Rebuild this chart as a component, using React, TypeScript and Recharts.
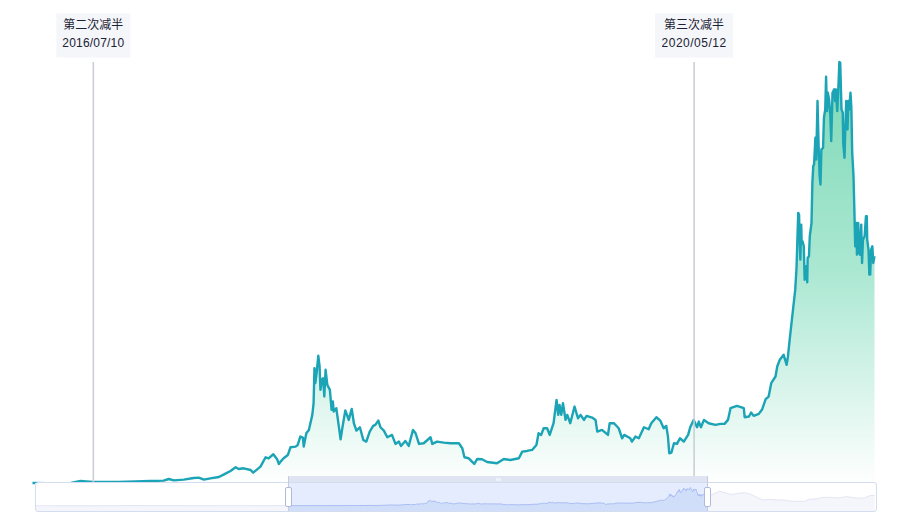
import React from "react";
import { ComposedChart, Area, XAxis, YAxis, ReferenceLine, ReferenceArea } from "recharts";

// Days counted from 2016/02/19, the first day of the zoomed window, and BTC price in USD.
const windowDays = [
  0, 30, 60, 90, 112, 125, 142, 170, 200, 240, 275, 306, 318, 330, 353, 376, 388, 400, 415, 435, 447, 462, 474, 481, 493, 509, 515, 532, 544, 551, 562, 571, 575,
  579, 586, 596, 602, 614, 619, 625, 631, 633, 639, 645, 653, 656, 658, 660, 663, 667, 670, 672, 675, 678, 681, 684, 688, 694, 698, 701, 703, 709, 715, 719, 723, 730, 734, 738, 745, 750, 756, 764, 772, 779, 787, 795, 800, 807, 812, 820, 828, 839, 847, 855, 860, 870, 878, 888, 894, 902, 913, 929, 933, 944, 960, 975, 995, 1003, 1008, 1018, 1031, 1038, 1049, 1061, 1084, 1100, 1115, 1135,
  1143, 1154, 1166, 1176, 1181, 1187, 1193, 1201, 1207, 1216, 1223, 1227, 1230, 1234, 1238, 1244, 1248, 1255, 1265, 1273, 1279, 1287, 1293, 1306, 1314, 1318, 1329, 1343, 1347, 1357, 1368, 1376, 1381, 1395, 1399, 1407, 1415, 1427, 1438, 1444, 1456, 1465, 1473, 1479, 1483, 1486, 1491, 1497, 1504, 1511, 1520, 1530, 1535, 1543, 1551, 1555, 1560, 1567, 1578, 1594, 1605, 1615, 1623, 1629, 1644, 1660, 1662, 1672, 1677, 1683, 1695, 1703, 1711, 1718, 1724, 1734, 1738, 1744, 1753, 1760, 1763, 1767,
  1780, 1783, 1787, 1789, 1790, 1792, 1794, 1795, 1797, 1800, 1802, 1806, 1808, 1809, 1812, 1814, 1818, 1820, 1822, 1824, 1827, 1829, 1832, 1835, 1837, 1839, 1841, 1845, 1847, 1850, 1852, 1854, 1856, 1859, 1862, 1864, 1867, 1871, 1873, 1875, 1878, 1881, 1883, 1885, 1888, 1891, 1892, 1895, 1897, 1899, 1902, 1904, 1906, 1909, 1911, 1913, 1916, 1918, 1920, 1923, 1924, 1927, 1929, 1931, 1934, 1936, 1938, 1942, 1945, 1947, 1948, 1951, 1953, 1955, 1957, 1960, 1962, 1965,
];
const windowPrices = [
  450, 430, 420, 450, 750, 700, 620, 600, 620, 700, 750, 800, 1050, 850, 950, 1200, 1250, 950, 1150, 1350, 1750, 2250, 2800, 2550, 2650, 2400, 2000, 2900, 4300, 4150, 4750, 4000, 3300,
  3650, 4150, 4650, 5800, 5900, 6150, 7400, 7250, 5900, 7900, 8400, 10650, 12400, 17650, 15400, 16900, 19500, 17900, 14400, 15900, 16150, 13400, 17400, 15150, 14400, 11400, 12650, 11150, 11650, 8900, 7000, 8650, 11300, 10650, 9900, 11550, 9400, 8300, 8800, 6900, 6650, 8150, 9000, 9150, 9800, 8800, 8300, 7300, 7650, 6300, 6650, 6000, 6750, 6000, 8400, 7900, 6300, 6400, 7300, 6300, 6650, 6500, 6400, 6400, 5650, 4300, 4150, 3300, 4050, 4000, 3600, 3400, 4050, 3900, 4150,
  5150, 5250, 5400, 6150, 7900, 7650, 8650, 8650, 7650, 9400, 12900, 10650, 12150, 10650, 12400, 9900, 10650, 9400, 11900, 10150, 10650, 9900, 10500, 10250, 9900, 8150, 8400, 7650, 9400, 9400, 8650, 7150, 7650, 7150, 6650, 7400, 7150, 8800, 8500, 9400, 10300, 9800, 8650, 9000, 7400, 4900, 5000, 6400, 6300, 7150, 6650, 7650, 8800, 9900, 8800, 9650, 8800, 9900, 9400, 9150, 9300, 9300, 9900, 11650, 12000, 11650, 10300, 10400, 11000, 10500, 10800, 11500, 13000, 13400, 15400, 16400, 17900, 18900, 19650, 18150, 19400, 21900,
  29400, 32650, 40900, 40650, 37400, 33900, 39150, 36400, 36650, 35900, 30900, 32900, 30500, 34150, 34400, 37400, 39400, 45400, 47900, 48150, 52150, 48900, 57650, 49900, 46400, 45150, 50400, 50650, 55150, 56400, 61300, 56150, 58900, 57900, 55400, 51650, 58900, 59400, 57650, 59400, 56150, 60150, 63500, 63400, 56400, 55900, 51400, 49150, 53900, 57650, 53400, 57650, 56400, 58900, 56650, 49900, 46400, 41400, 35900, 39400, 34650, 39400, 34900, 34650, 39150, 33400, 36900, 37400, 40400, 40400, 36900, 35400, 31650, 31650, 35400, 35900, 33400, 34400,
];

// History outside the window, seen only in the overview strip.
const earlierDays = [-1184, -1100, -1000, -900, -800, -760, -650, -500, -350, -200, -100];
const earlierPrices = [13, 30, 120, 110, 300, 1000, 600, 400, 250, 280, 400];
const laterDays = [1978, 1998, 2021, 2045, 2076, 2107, 2138, 2170, 2201, 2224, 2255, 2287, 2318, 2349, 2380, 2419, 2443, 2482, 2505, 2536, 2575, 2614, 2661, 2700, 2723, 2747];
const laterPrices = [36600, 43600, 50600, 46000, 39000, 43600, 46000, 39000, 27300, 20300, 22600, 20300, 20300, 16800, 15600, 15600, 22600, 25000, 29600, 29600, 27300, 32000, 27300, 27300, 35400, 36600];

const halvingNames = ["第二次减半", "第三次减半"];
const halvingDates = ["2016/07/10", "2020/05/12"];
const halvingDays = [142, 1544];

const mainRows = windowDays.map((day, i) => ({ day, price: windowPrices[i] }));
const overviewRows = [
  ...earlierDays.map((day, i) => ({ day, outer: earlierPrices[i], inner: null as number | null })),
  ...windowDays.map((day, i) => ({ day, outer: windowPrices[i], inner: windowPrices[i] as number | null })),
  ...laterDays.map((day, i) => ({ day, outer: laterPrices[i], inner: null as number | null })),
];

const FONT = '"Liberation Sans", "Noto Sans CJK SC", sans-serif';

function HalvingLabel({ viewBox, name, date, boxWidth, spacing }: any) {
  const cx = viewBox.x;
  return (
    <g>
      <rect x={cx - boxWidth / 2} y={13.5} width={boxWidth} height={44} fill="#F4F6FA" />
      <text x={cx} y={29} textAnchor="middle" fontSize={12} fill="#1B2233" fontFamily={FONT}>{name}</text>
      <text x={cx} y={47} textAnchor="middle" fontSize={12} letterSpacing={spacing} fill="#1B2233" fontFamily={FONT}>{date}</text>
    </g>
  );
}

const handleStyle = (left: number): React.CSSProperties => ({
  position: "absolute",
  left,
  top: 487,
  width: 5,
  height: 18,
  background: "#FFFFFF",
  border: "1px solid #AEBAD8",
  borderRadius: 2,
});

export default function App() {
  return (
    <div style={{ position: "absolute", left: 0, top: 0, width: 904, height: 526, background: "#FFFFFF", overflow: "hidden" }}>
      <ComposedChart width={904} height={526} data={mainRows} margin={{ top: 62, right: 29.5, bottom: 40, left: 32.5 }} style={{ position: "absolute", left: 0, top: 0 }}>
        <defs>
          <linearGradient id="priceFill" x1="0" y1="0" x2="0" y2="1">
            <stop offset="0%" stopColor="#7CD8B5" />
            <stop offset="50%" stopColor="#ACE8D3" />
            <stop offset="100%" stopColor="#FFFFFF" />
          </linearGradient>
        </defs>
        <XAxis dataKey="day" type="number" domain={[0, 1965]} hide />
        <YAxis type="number" domain={[0, 63500]} hide />
        <Area dataKey="price" type="linear" stroke="#1BA3B6" strokeWidth={2.4} strokeLinejoin="round" fill="url(#priceFill)" fillOpacity={1} dot={false} activeDot={false} isAnimationActive={false} />
        {halvingDays.map((d, i) => (
          <ReferenceLine key={d} x={d} stroke="#C9CCD3" strokeWidth={1.5} label={<HalvingLabel name={halvingNames[i]} date={halvingDates[i]} boxWidth={i === 0 ? 74 : 78} spacing={i === 0 ? 0.2 : 0.5} />} />
        ))}
      </ComposedChart>

      {/* Overview strip */}
      <div style={{ position: "absolute", left: 288, top: 476, width: 420, height: 7, background: "#DFE4F2", borderRadius: "3px 3px 0 0" }} />
      <div style={{ position: "absolute", left: 496, top: 478, width: 5, height: 3, background: "#EEF1F8" }} />
      <ComposedChart width={841} height={28} data={overviewRows} margin={{ top: 0, right: 0, bottom: 0, left: 0 }} style={{ position: "absolute", left: 35, top: 483, background: "#FFFFFF" }}>
        <XAxis dataKey="day" type="number" domain={[-1184, 2753]} hide />
        <YAxis type="number" domain={[-18200, 79800]} hide />
        <ReferenceArea x1={0} x2={1965} fill="#E5ECFD" fillOpacity={1} stroke="none" />
        <Area dataKey="outer" type="linear" baseValue={-18200} stroke="#E2E6F3" strokeWidth={1} fill="#F5F6FC" fillOpacity={1} dot={false} activeDot={false} isAnimationActive={false} />
        <Area dataKey="inner" type="linear" baseValue={-18200} stroke="#A9BEF5" strokeWidth={1} fill="#D1DEFA" fillOpacity={1} dot={false} activeDot={false} isAnimationActive={false} />
      </ComposedChart>
      <div style={{ position: "absolute", left: 35, top: 482, width: 840, height: 28, border: "1px solid #D4DCF0", borderRadius: 3 }} />
      <div style={{ position: "absolute", left: 288, top: 476, width: 1, height: 35, background: "#C4CBDB" }} />
      <div style={{ position: "absolute", left: 707, top: 476, width: 1, height: 35, background: "#C4CBDB" }} />
      <div style={handleStyle(285)} />
      <div style={handleStyle(704)} />
    </div>
  );
}
